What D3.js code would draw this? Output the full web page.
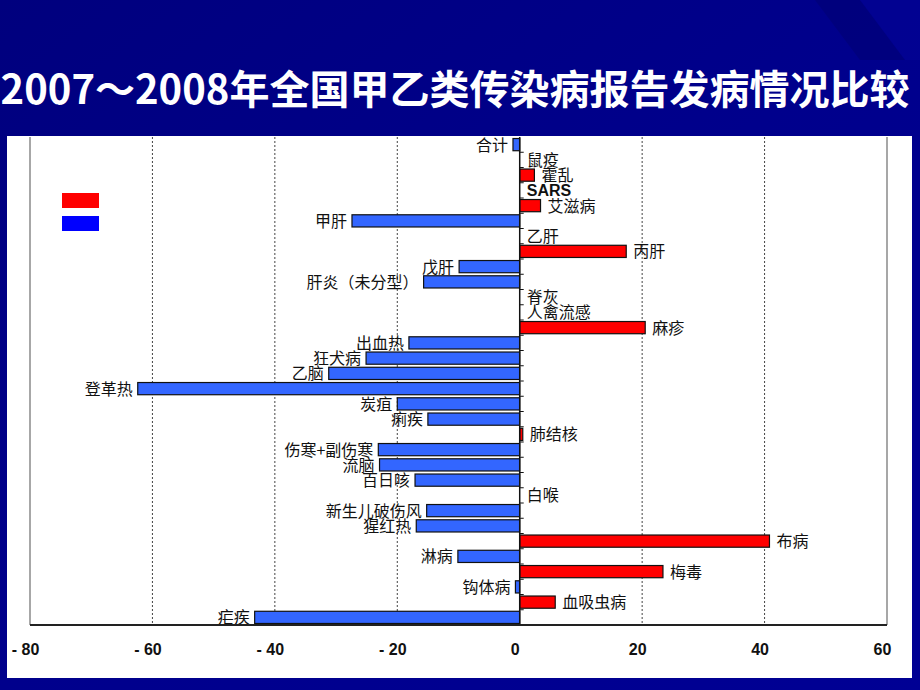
<!DOCTYPE html>
<html lang="zh">
<head>
<meta charset="UTF-8">
<title>2007～2008年全国甲乙类传染病报告发病情况比较</title>
<script src="https://d3js.org/d3.v7.min.js"></script>
<style>
    body { margin: 0; background: #000088; }
    svg { display: block; }
    .cat { font-family: "Noto Sans CJK SC", sans-serif; font-size: 16px; fill: #111; }
    .xaxis text { font-family: "Liberation Sans", Arial, sans-serif; font-weight: bold; font-size: 16px; fill: #111; }
</style>
</head>
<body>
<svg width="920" height="690"></svg>
<script>
// percent change in reported incidence, 2008 vs 2007
const categories = ["合计", "鼠疫", "霍乱", "SARS", "艾滋病", "甲肝", "乙肝", "丙肝", "戊肝", "肝炎（未分型）",
    "脊灰", "人禽流感", "麻疹", "出血热", "狂犬病", "乙脑", "登革热", "炭疽", "痢疾", "肺结核",
    "伤寒+副伤寒", "流脑", "百日咳", "白喉", "新生儿破伤风", "猩红热", "布病", "淋病", "梅毒", "钩体病",
    "血吸虫病", "疟疾"];
const changes = [-1.1, 0, 2.4, 0, 3.4, -27.4, 0, 17.4, -9.9, -15.7,
    0, 0, 20.5, -18.1, -25.1, -31.2, -62.4, -20.0, -15.0, 0.5,
    -23.1, -22.9, -17.1, 0, -15.2, -16.9, 40.8, -10.1, 23.4, -0.7,
    5.8, -43.3];
const xTicks = [-80, -60, -40, -20, 0, 20, 40, 60];
const legendColors = ["#ff0000", "#0000ff"];
const title = "2007～2008年全国甲乙类传染病报告发病情况比较";

const svg = d3.select("svg");

// background
const defs = svg.append("defs");
const bg = defs.append("linearGradient").attr("id", "bg")
    .attr("x1", "0").attr("y1", "0").attr("x2", "1").attr("y2", "1");
bg.append("stop").attr("offset", "0").attr("stop-color", "#00007e");
bg.append("stop").attr("offset", "0.5").attr("stop-color", "#00008c");
bg.append("stop").attr("offset", "1").attr("stop-color", "#000094");
svg.append("rect").attr("width", 920).attr("height", 690).attr("fill", "url(#bg)");
svg.append("path").attr("d", "M815,0 L860,0 L905,60 L860,60 Z").attr("fill", "#00006a").attr("opacity", 0.4);
svg.append("path").attr("d", "M860,0 L920,0 L920,60 L905,60 Z").attr("fill", "#0505a0").attr("opacity", 0.3);

svg.append("text")
    .attr("x", 455).attr("y", 104)
    .attr("text-anchor", "middle")
    .attr("font-family", "'Noto Sans CJK SC', sans-serif")
    .attr("font-weight", "bold")
    .attr("font-size", 40)
    .attr("fill", "#fff")
    .text(title);

// white panel
svg.append("rect").attr("x", 7).attr("y", 136).attr("width", 905).attr("height", 542).attr("fill", "#fff");

const x = d3.scaleLinear().domain([-80, 60]).range([30, 887]);
const y = d3.scaleBand().domain(categories).range([137, 625]).paddingInner(0.2).paddingOuter(0.1);
const yTop = 137, yBottom = 625;

// grid
svg.append("g").selectAll("line")
    .data(xTicks.filter(d => d !== 0 && d !== -80 && d !== 60))
    .join("line")
    .attr("x1", d => x(d)).attr("x2", d => x(d))
    .attr("y1", yTop).attr("y2", yBottom)
    .attr("stroke", "#444").attr("stroke-width", 1)
    .attr("stroke-dasharray", "2,2");

svg.append("g").selectAll("line")
    .data([-80, 60])
    .join("line")
    .attr("x1", d => x(d)).attr("x2", d => x(d))
    .attr("y1", yTop).attr("y2", yBottom)
    .attr("stroke", "#8a8a8a").attr("stroke-width", 1.5);

// bars
const data = categories.map((c, i) => ({cat: c, v: changes[i]}));
svg.append("g").selectAll("rect")
    .data(data.filter(d => d.v !== 0))
    .join("rect")
    .attr("x", d => x(Math.min(0, d.v)))
    .attr("y", d => y(d.cat))
    .attr("width", d => Math.abs(x(d.v) - x(0)))
    .attr("height", y.bandwidth())
    .attr("fill", d => d.v > 0 ? "#ff0000" : "#3366ff")
    .attr("stroke", "#111").attr("stroke-width", 1.2);

// zero axis with ticks between bands
const step = y.step();
const boundaries = d3.range(1, categories.length).map(i => y(categories[i]) - step * y.paddingInner() / 2);
svg.append("line")
    .attr("x1", x(0)).attr("x2", x(0)).attr("y1", yTop).attr("y2", yBottom)
    .attr("stroke", "#111").attr("stroke-width", 1.5);
svg.append("g").selectAll("line")
    .data(boundaries)
    .join("line")
    .attr("x1", x(0)).attr("x2", x(0) + 4)
    .attr("y1", d => d).attr("y2", d => d)
    .attr("stroke", "#111").attr("stroke-width", 1);

// category labels
svg.append("g").selectAll("text")
    .data(data)
    .join("text")
    .attr("class", "cat")
    .attr("x", d => d.v < 0 ? x(d.v) - 5 : x(d.v) + 7)
    .attr("y", d => y(d.cat) + y.bandwidth() / 2)
    .attr("dy", "0.38em")
    .attr("text-anchor", d => d.v < 0 ? "end" : "start")
    .style("font-family", d => d.cat === "SARS" ? "'Liberation Sans', Arial, sans-serif" : null)
    .style("font-weight", d => d.cat === "SARS" ? "bold" : null)
    .text(d => d.cat);

// bottom axis
svg.append("line")
    .attr("x1", x(-80)).attr("x2", x(60)).attr("y1", yBottom).attr("y2", yBottom)
    .attr("stroke", "#222").attr("stroke-width", 2);

const xAxis = d3.axisBottom(x)
    .tickValues(xTicks)
    .tickSize(0)
    .tickPadding(0)
    .tickFormat(d => d < 0 ? "- " + Math.abs(d) : String(d));
svg.append("g")
    .attr("class", "xaxis")
    .attr("transform", `translate(-5,${yBottom + 19})`)
    .call(xAxis)
    .call(g => g.select(".domain").remove());

// legend (swatches only)
svg.append("g").selectAll("rect")
    .data(legendColors)
    .join("rect")
    .attr("x", 62).attr("y", (d, i) => 193 + i * 23)
    .attr("width", 37).attr("height", 15)
    .attr("fill", d => d);
</script>
</body>
</html>
